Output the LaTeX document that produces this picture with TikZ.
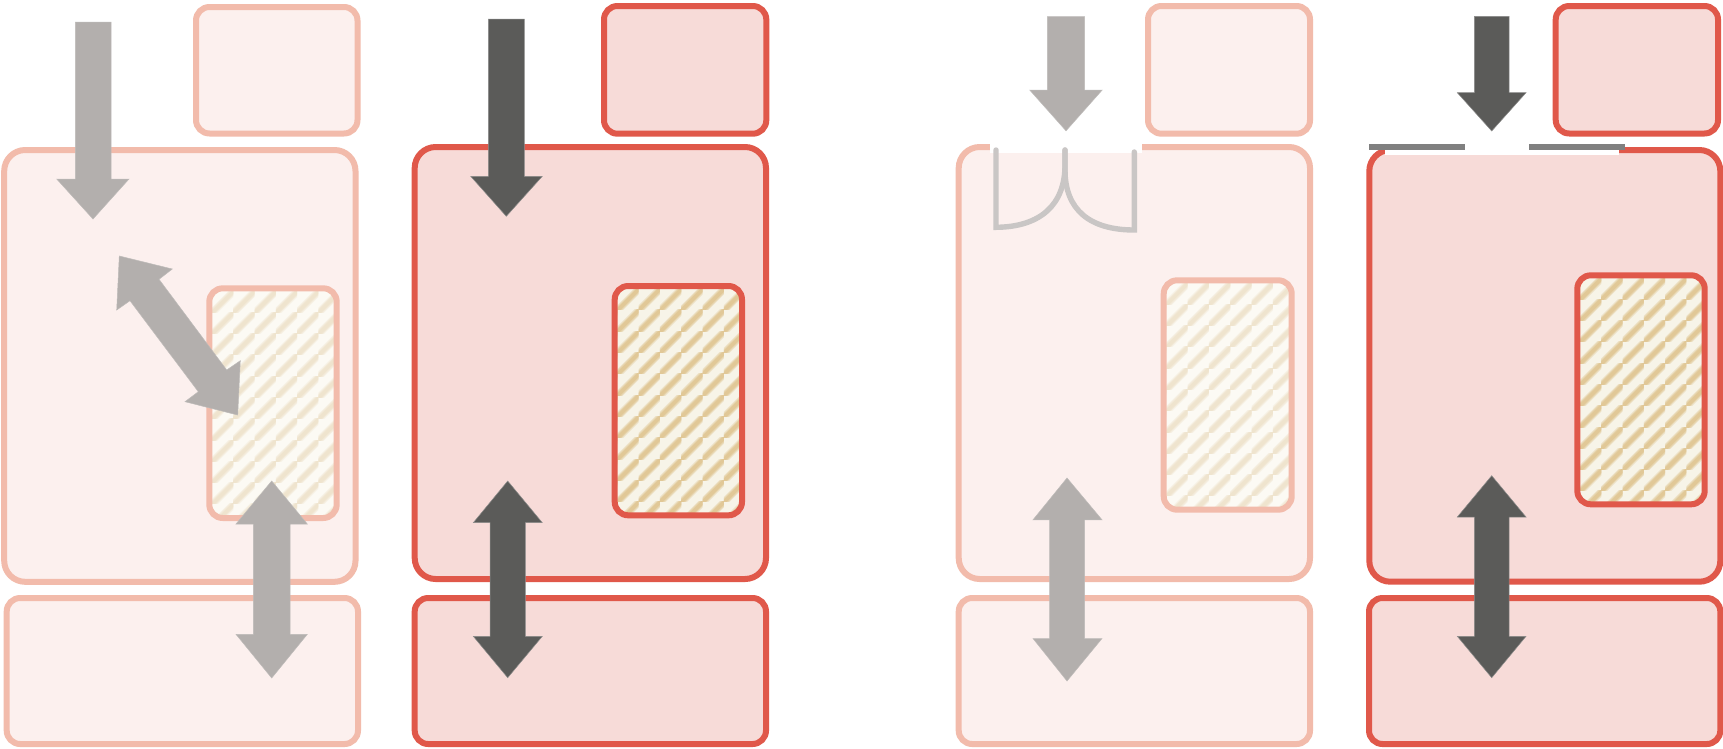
\documentclass[tikz,border=0pt]{standalone}
\definecolor{palestroke}{HTML}{F2BBAB}
\definecolor{palefill}{HTML}{FCF0EE}
\definecolor{strongstroke}{HTML}{E0584A}
\definecolor{strongfill}{HTML}{F7DBD8}
\definecolor{arrowpale}{HTML}{B3AFAD}
\definecolor{arrowdark}{HTML}{5B5B59}
\definecolor{barcol}{HTML}{808080}
\definecolor{doorcol}{HTML}{C9C6C5}
\definecolor{hatchpalebg}{HTML}{FCFAF4}
\definecolor{hatchpale}{HTML}{EFE3CB}
\definecolor{hatchbg}{HTML}{F7F4E8}
\definecolor{hatchstrong}{HTML}{DFC48F}
\tikzset{
  pale/.style={draw=palestroke,fill=palefill,line width=6pt},
  strong/.style={draw=strongstroke,fill=strongfill,line width=6pt},
  bigr/.style={rounded corners=21pt},
  smallr/.style={rounded corners=13.5pt},
  arrpale/.style={fill=arrowpale,draw=arrowpale!85!white,line width=.5pt},
  arrdark/.style={fill=arrowdark,draw=arrowdark!70!white,line width=.5pt},
  graybar/.style={fill=barcol},
  doorline/.style={draw=doorcol,line width=5.4pt,line cap=round,line join=miter},
}
% x1 y1 x2 y2 bg stripe border-style
\newcommand{\hatchbox}[7]{%
  \fill[#5,smallr] (#1,#2) rectangle (#3,#4);
  \begin{scope}
    \clip[smallr] (#1,#2) rectangle (#3,#4);
    \pgfmathsetmacro{\ox}{#1+2.6}
    \pgfmathsetmacro{\oy}{#2+2.6}
    \foreach \i in {-1,...,6}{
      \foreach \j in {-1,...,11}{
        \pgfmathsetmacro{\tx}{\ox+21.3*\i}
        \pgfmathsetmacro{\ty}{\oy+21.3*\j}
        \begin{scope}[shift={(\tx,\ty)}]
          \clip (0,0) rectangle (21.35,21.35);
          \draw[#6,opacity=.35,line width=7.5pt] (-3,25) -- (25,-3);
          \draw[#6,opacity=.5,line width=5.5pt] (-3,25) -- (25,-3);
          \draw[#6,opacity=.7,line width=3.5pt] (-3,25) -- (25,-3);
        \end{scope}
      }
    }
  \end{scope}
  \draw[#7,fill=none,smallr] (#1,#2) rectangle (#3,#4);
}
\begin{document}
\begin{tikzpicture}[x=1pt,y=-1pt]
\useasboundingbox (0,0) rectangle (1723,748);
\fill[white] (0,0) rectangle (1723,748);

% ---------- panel 1
\path[pale,bigr] (4.2,150) rectangle (355.5,581.8);
\hatchbox{209.3}{288.3}{336.7}{518}{hatchpalebg}{hatchpale}{pale}
\path[pale,smallr] (196,7) rectangle (357.5,133.5);
\path[pale,smallr] (6.7,598) rectangle (358,744);
\path[arrpale] (75.3,22) -- (111,22) -- (111,179) -- (129,179) -- (93,219) -- (56.7,179) -- (75.3,179) -- cycle;
\path[arrpale] (119.3,256) -- (172.3,269) -- (159,279.3) -- (226.7,370) -- (240.3,360.7) -- (237.7,415) -- (185,401.7) -- (198.3,391.7) -- (130,300.7) -- (116.7,310) -- cycle;
\path[arrpale] (271.7,481) -- (307.3,524) -- (290,524) -- (290,634.3) -- (307.3,634.3) -- (271.7,678) -- (236,634.3) -- (253.3,634.3) -- (253.3,524) -- (236,524) -- cycle;

% ---------- panel 2
\path[strong,bigr] (414.7,147) rectangle (766,579);
\hatchbox{614.7}{286}{742}{515.3}{hatchbg}{hatchstrong}{strong}
\path[strong,smallr] (604,6) rectangle (766.3,133.7);
\path[strong,smallr] (414.7,598) rectangle (766,744);
\path[arrdark] (488.3,19) -- (524.3,19) -- (524.3,176.3) -- (542.3,176.3) -- (506.3,216.3) -- (470.7,176.3) -- (488.3,176.3) -- cycle;
\path[arrdark] (507.7,481) -- (542.3,522.7) -- (525.3,522.7) -- (525.3,636.3) -- (542.3,636.3) -- (507.7,677.7) -- (473.3,636.3) -- (490,636.3) -- (490,522.7) -- (473.3,522.7) -- cycle;

% ---------- panel 3
\path[pale,bigr] (958.7,147) rectangle (1310,579);
\fill[white] (990,143) rectangle (1142.3,152.7);
\hatchbox{1163.7}{280.3}{1291.7}{509.7}{hatchpalebg}{hatchpale}{pale}
\path[pale,smallr] (1148,6) rectangle (1310,133.7);
\path[pale,smallr] (958.7,598) rectangle (1310,744);
\draw[doorline] (996,150) -- (996,227.3) .. controls (1040,227) and (1065,205) .. (1065,165) -- (1065,150);
\draw[doorline] (1134.3,152) -- (1134.3,230) .. controls (1090,230) and (1065,210) .. (1065,170) -- (1065,150);
\path[arrpale] (1047.3,16.5) -- (1084.7,16.5) -- (1084.7,90) -- (1102.2,90) -- (1066,130.8) -- (1029.7,90) -- (1047.3,90) -- cycle;
\path[arrpale] (1067,478) -- (1102,519.8) -- (1084.7,519.8) -- (1084.7,638.5) -- (1102,638.5) -- (1067,681) -- (1033,638.5) -- (1049.5,638.5) -- (1049.5,519.8) -- (1033,519.8) -- cycle;

% ---------- panel 4
\path[strong,bigr] (1369.3,150) rectangle (1720.3,581.7);
\fill[white] (1385,143) rectangle (1619.3,155);
\fill[graybar] (1369,144.3) rectangle (1465,150);
\fill[graybar] (1529,144.3) rectangle (1625,150);
\hatchbox{1577.3}{275.3}{1704.7}{504.3}{hatchbg}{hatchstrong}{strong}
\path[strong,smallr] (1555.7,6) rectangle (1718,133.5);
\path[strong,smallr] (1369,598) rectangle (1720.3,744);
\path[arrdark] (1474.3,16.3) -- (1509,16.3) -- (1509,92.7) -- (1526,92.7) -- (1491.7,131) -- (1457.3,92.7) -- (1474.3,92.7) -- cycle;
\path[arrdark] (1491.7,475.7) -- (1526,517) -- (1509,517) -- (1509,636.3) -- (1526,636.3) -- (1491.7,677.7) -- (1457.3,636.3) -- (1474.3,636.3) -- (1474.3,517) -- (1457.3,517) -- cycle;
\end{tikzpicture}
\end{document}
